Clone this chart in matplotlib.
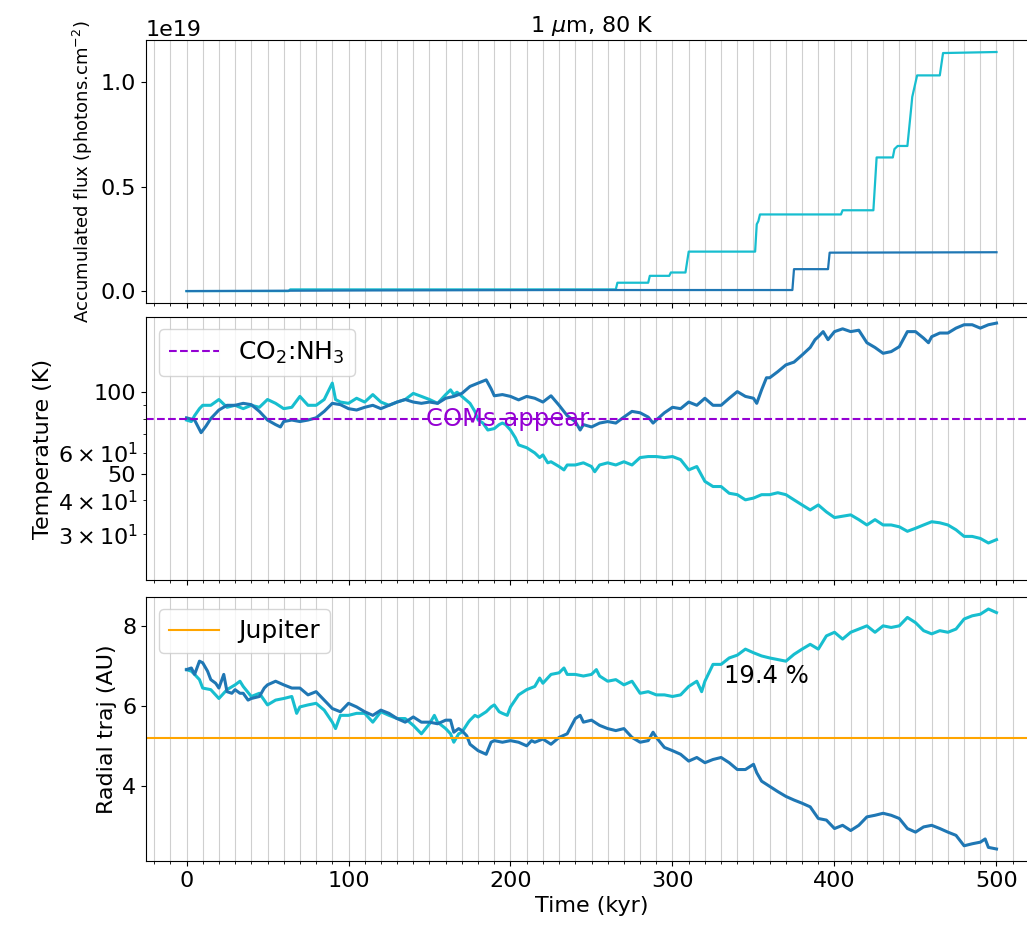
"""Plot accumulated UV flux, temperature and radial trajectory for two grains."""

import matplotlib

matplotlib.use("Agg")
import matplotlib.pyplot as plt
from matplotlib.ticker import MultipleLocator, ScalarFormatter

GRAIN_A_COLOR = "#17becf"
GRAIN_B_COLOR = "#1f77b4"
COMS_COLOR = "darkviolet"
JUPITER_COLOR = "orange"

# accumulated flux (units of 1e19 photons/cm2)
flux_a_time = [0, 63, 64, 265, 266, 285, 286, 298, 299, 308, 310, 351, 352, 353, 354,
               404, 405, 424, 426, 436, 437, 439, 445, 447, 448, 451, 465, 467, 500]
flux_a = [0, 0, 0.008, 0.008, 0.04, 0.04, 0.073, 0.073, 0.089, 0.089, 0.189, 0.189,
          0.32, 0.335, 0.367, 0.367, 0.387, 0.387, 0.64, 0.64, 0.68, 0.695, 0.695,
          0.85, 0.93, 1.033, 1.033, 1.14, 1.145]
flux_b_time = [0, 110, 230, 374, 375, 396, 397, 500]
flux_b = [0, 0.003, 0.005, 0.005, 0.105, 0.105, 0.184, 0.186]

# temperature (K)
temp_a_time = [0, 3, 5, 8, 10, 15, 20, 25, 30, 35, 40, 45, 50, 55, 60, 65, 70, 75, 80,
               85, 90, 92, 95, 100, 105, 110, 115, 120, 125, 130, 135, 140, 145, 150,
               155, 160, 163, 165, 167, 170, 175, 178, 180, 183, 186, 190, 193, 195,
               197, 200, 203, 205, 210, 215, 218, 220, 223, 225, 230, 233, 235, 240,
               245, 250, 252, 255, 260, 265, 270, 275, 280, 285, 290, 295, 300, 305,
               310, 315, 320, 325, 330, 335, 340, 345, 350, 355, 360, 365, 370, 375,
               380, 385, 390, 395, 400, 405, 410, 415, 420, 425, 430, 435, 440, 445,
               450, 455, 460, 465, 470, 475, 480, 485, 490, 495, 500]
temp_a = [79, 78, 82, 87, 89.5, 89.5, 94, 88, 89.5, 87, 89.5, 88, 94, 91, 87, 88, 96.5,
          89.5, 89.5, 94, 108, 94, 92, 91, 95, 92, 98, 92, 89.5, 92, 94, 99, 96.5, 94,
          91, 98, 102, 98, 100, 96.5, 91, 85, 79, 77, 72.6, 73.5, 76, 77, 76, 72.6, 68,
          64, 62.5, 59.8, 57.5, 58.8, 55, 55.5, 53.3, 51.8, 54, 54, 55, 53.3, 51, 54,
          55, 54, 55.5, 54, 57.5, 58, 58, 57.5, 58, 56.5, 51.8, 53.3, 47, 45, 45, 42.5,
          42, 40.2, 40.8, 42, 42, 42.7, 42, 40.2, 38.5, 36.9, 38.5, 36.3, 34.6, 35,
          35.4, 34, 32.5, 34, 32.5, 32.5, 32, 30.8, 31.6, 32.5, 33.4, 33.1, 32.5, 31.2,
          29.5, 29.5, 29, 27.9, 28.7]
temp_b_time = [0, 5, 9, 12, 15, 20, 25, 30, 35, 40, 45, 50, 55, 58, 60, 65, 70, 75, 80,
               85, 90, 95, 100, 105, 110, 115, 120, 125, 130, 135, 140, 145, 150, 155,
               160, 165, 170, 175, 180, 185, 188, 190, 195, 200, 205, 210, 215, 220,
               225, 230, 235, 240, 243, 245, 250, 255, 260, 265, 270, 275, 280, 285,
               288, 290, 295, 300, 305, 310, 315, 320, 325, 330, 335, 340, 345, 350,
               352, 355, 358, 360, 365, 370, 375, 380, 385, 388, 390, 393, 396, 400,
               405, 410, 415, 420, 425, 430, 435, 440, 445, 450, 455, 458, 460, 465,
               470, 475, 480, 485, 490, 495, 500]
temp_b = [80.5, 79, 71, 75, 80, 86, 89.5, 89.5, 91, 90, 85, 79, 76, 74.5, 78, 79, 78,
          79, 80.5, 85, 91, 90, 87, 86, 88, 89.5, 87, 89.5, 92, 94, 92, 91, 92, 91, 95,
          96.5, 99, 105, 108, 111, 103, 97, 98, 96.5, 93.7, 96.5, 95, 92, 97, 89.5, 82,
          78, 72.6, 76, 74.5, 77, 78, 77, 81, 85, 84, 81, 77, 79, 84, 88, 87, 92, 89.5,
          95, 89.5, 89.5, 95, 100.5, 96.5, 95, 91, 102, 113, 113, 119, 126, 129, 137,
          146, 156, 160, 167, 156, 167, 171, 167, 169, 152, 146, 139, 141, 147, 167,
          167, 158, 152, 160, 165, 165, 172, 177, 177, 172, 177, 179.5]

# radial position (AU)
radius_a_time = [0, 3, 5, 8, 10, 15, 20, 25, 30, 33, 35, 40, 45, 50, 55, 60, 65, 68, 70,
                 75, 80, 85, 90, 92, 95, 100, 105, 110, 115, 120, 125, 130, 135, 140,
                 145, 150, 153, 155, 160, 163, 165, 168, 170, 174, 175, 178, 180, 185,
                 188, 190, 193, 195, 198, 200, 205, 210, 215, 218, 220, 225, 230, 233,
                 235, 240, 245, 250, 253, 255, 260, 265, 270, 275, 280, 285, 290, 295,
                 300, 305, 310, 315, 318, 320, 325, 330, 335, 340, 345, 350, 355, 360,
                 365, 370, 375, 380, 385, 390, 395, 400, 405, 410, 415, 420, 425, 430,
                 435, 440, 445, 450, 455, 460, 465, 470, 475, 480, 485, 490, 495, 500]
radius_a = [6.91, 6.87, 6.79, 6.66, 6.45, 6.41, 6.19, 6.41, 6.53, 6.62, 6.49, 6.24,
            6.32, 6.03, 6.15, 6.19, 6.24, 5.82, 5.98, 6.03, 6.07, 5.9, 5.6, 5.44, 5.77,
            5.77, 5.82, 5.82, 5.6, 5.86, 5.77, 5.69, 5.69, 5.52, 5.31, 5.56, 5.77, 5.6,
            5.44, 5.31, 5.1, 5.31, 5.35, 5.6, 5.65, 5.77, 5.73, 5.86, 5.98, 6.03, 5.86,
            5.82, 5.77, 5.98, 6.28, 6.41, 6.49, 6.7, 6.57, 6.79, 6.83, 6.95, 6.79, 6.79,
            6.75, 6.79, 6.91, 6.75, 6.62, 6.66, 6.53, 6.62, 6.32, 6.36, 6.28, 6.28, 6.24,
            6.28, 6.49, 6.62, 6.36, 6.62, 7.04, 7.04, 7.2, 7.27, 7.42, 7.33, 7.25, 7.2,
            7.16, 7.12, 7.29, 7.42, 7.54, 7.42, 7.75, 7.84, 7.67, 7.84, 7.92, 8.0, 7.84,
            8.0, 7.96, 8.0, 8.21, 8.08, 7.88, 7.8, 7.88, 7.84, 7.92, 8.17, 8.25, 8.29,
            8.42, 8.33]
radius_b_time = [0, 3, 5, 8, 10, 13, 15, 18, 20, 23, 25, 28, 30, 33, 35, 38, 40, 45, 48,
                 50, 55, 60, 65, 70, 75, 80, 85, 90, 95, 100, 105, 110, 115, 120, 125,
                 130, 135, 140, 145, 150, 155, 160, 163, 165, 168, 170, 173, 175, 180,
                 185, 188, 190, 195, 200, 205, 210, 213, 215, 220, 225, 230, 235, 240,
                 243, 245, 250, 255, 260, 265, 270, 275, 280, 285, 288, 290, 295, 300,
                 305, 310, 315, 320, 325, 330, 335, 340, 345, 350, 352, 355, 360, 365,
                 370, 375, 380, 385, 390, 395, 400, 405, 410, 415, 420, 425, 430, 435,
                 440, 445, 450, 455, 460, 465, 470, 475, 480, 485, 490, 493, 495, 500]
radius_b = [6.91, 6.95, 6.79, 7.12, 7.08, 6.87, 6.66, 6.57, 6.45, 6.79, 6.36, 6.32,
            6.41, 6.32, 6.32, 6.15, 6.19, 6.24, 6.45, 6.53, 6.62, 6.53, 6.45, 6.45, 6.28,
            6.36, 6.15, 5.94, 5.86, 6.07, 5.98, 5.86, 5.77, 5.9, 5.82, 5.69, 5.6, 5.73,
            5.6, 5.6, 5.56, 5.65, 5.65, 5.35, 5.44, 5.39, 5.26, 5.05, 4.89, 4.8, 5.1,
            5.14, 5.1, 5.14, 5.1, 5.01, 5.14, 5.1, 5.18, 5.05, 5.22, 5.31, 5.69, 5.77,
            5.6, 5.65, 5.52, 5.44, 5.39, 5.44, 5.22, 5.1, 5.14, 5.35, 5.22, 4.97, 4.89,
            4.8, 4.63, 4.72, 4.59, 4.67, 4.72, 4.59, 4.42, 4.42, 4.55, 4.34, 4.13, 4.0,
            3.87, 3.75, 3.66, 3.58, 3.49, 3.2, 3.16, 2.95, 3.03, 2.9, 3.03, 3.24, 3.28,
            3.33, 3.28, 3.2, 2.95, 2.86, 2.99, 3.03, 2.95, 2.86, 2.78, 2.52, 2.57, 2.61,
            2.69, 2.48, 2.44]

COMS_TEMPERATURE = 80
JUPITER_RADIUS = 5.2
ESCAPE_FRACTION = "19.4 %"

plt.rcParams["font.size"] = 16

figure = plt.figure(figsize=(10.27, 9.25), dpi=100)
axis_width = 891 / 1027
axis_left = 146 / 1027
flux_axis = figure.add_axes([axis_left, 0.6724, axis_width, 0.2843])
temp_axis = figure.add_axes([axis_left, 0.3730, axis_width, 0.2843], sharex=flux_axis)
radius_axis = figure.add_axes([axis_left, 0.0692, axis_width, 0.2854], sharex=flux_axis)

# top: accumulated flux
flux_axis.plot(flux_a_time, [v * 1e19 for v in flux_a], color=GRAIN_A_COLOR, lw=1.6)
flux_axis.plot(flux_b_time, [v * 1e19 for v in flux_b], color=GRAIN_B_COLOR, lw=1.6)
flux_axis.set_ylabel(r"Accumulated flux (photons.cm$^{-2}$)", fontsize=13)
flux_axis.set_title(r"1 $\mu$m, 80 K", fontsize=16)
flux_axis.tick_params(labelbottom=False)

# middle: temperature
temp_axis.plot(temp_a_time, temp_a, color=GRAIN_A_COLOR, lw=2.2)
temp_axis.plot(temp_b_time, temp_b, color=GRAIN_B_COLOR, lw=2.2)
temp_axis.axhline(COMS_TEMPERATURE, color=COMS_COLOR, ls="--", lw=1.5,
                  label=r"CO$_2$:NH$_3$")
temp_axis.text(148, COMS_TEMPERATURE, "COMs appear", color=COMS_COLOR,
               va="center", ha="left", fontsize=17.5)
temp_axis.set_yscale("log")
temp_axis.set_ylim(20.4, 189)
temp_axis.set_yticks([50, 100])
temp_axis.yaxis.set_major_formatter(ScalarFormatter())
temp_axis.set_ylabel("Temperature (K)")
temp_axis.legend(loc="upper left", fontsize=18)
temp_axis.tick_params(labelbottom=False)

# bottom: radial trajectory
radius_axis.plot(radius_a_time, radius_a, color=GRAIN_A_COLOR, lw=2.2)
radius_axis.plot(radius_b_time, radius_b, color=GRAIN_B_COLOR, lw=2.2)
radius_axis.axhline(JUPITER_RADIUS, color=JUPITER_COLOR, lw=1.5, label="Jupiter")
radius_axis.text(332, 6.75, ESCAPE_FRACTION, va="center", ha="left", fontsize=17.5)
radius_axis.set_ylabel("Radial traj (AU)")
radius_axis.set_xlabel("Time (kyr)")
radius_axis.legend(loc="upper left", fontsize=18)

for axis in (flux_axis, temp_axis, radius_axis):
    axis.xaxis.set_minor_locator(MultipleLocator(10))
    axis.grid(axis="x", which="both", color="#cfcfcf", lw=0.8)
radius_axis.set_xlim(-25, 525)

figure.align_ylabels([temp_axis, radius_axis])
figure.savefig("out.png", dpi=100)
plt.close(figure)
